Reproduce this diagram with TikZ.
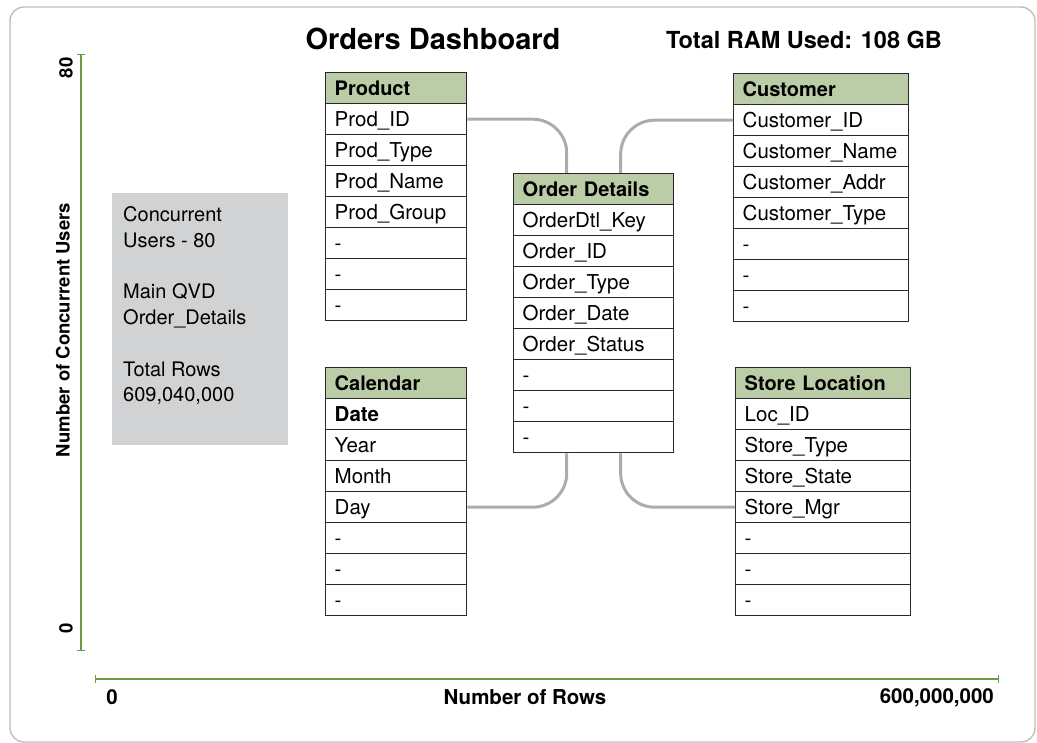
\documentclass[tikz,border=0pt]{standalone}
\usepackage{fontspec}
\setmainfont{TeX Gyre Heros}
\usetikzlibrary{arrows.meta,calc}
\definecolor{hdrgreen}{RGB}{187,205,166}
\definecolor{axisgreen}{RGB}{108,156,66}
\definecolor{connGray}{RGB}{172,172,174}
\definecolor{boxGray}{RGB}{209,210,212}
\definecolor{borderDark}{RGB}{40,40,40}
\definecolor{frameGray}{RGB}{190,190,190}
\newcommand\tfont{\fontsize{20.5}{24}\selectfont}
\newcommand\hfont{\fontsize{20}{24}\selectfont}
\newcommand\dbtable[6]{%
  \node[hdr, minimum width=#4pt, text width=#4pt-18pt, anchor=north west] (#1) at (#2,#3) {#5};
  \foreach \t [count=\i] in {#6} {%
    \node[rowcell, minimum width=#4pt, text width=#4pt-18pt, anchor=north west] (#1\i) at (#2,#3+31*\i) {\t};
  }%
}
\begin{document}
\begin{tikzpicture}[x=1pt,y=-1pt,
  rowcell/.style={draw=borderDark, line width=1.4pt, fill=white, rectangle, minimum height=31pt,
     inner xsep=9pt, inner ysep=0pt, text height=15pt, text depth=0pt, align=left, font=\tfont},
  hdr/.style={rowcell, fill=hdrgreen, font=\hfont\bfseries},
  conn/.style={draw=connGray, line width=3pt, rounded corners=34pt},
  axis/.style={draw=axisgreen, line width=1.8pt, {Bar[width=8pt,line width=1.4pt]}-{Bar[width=8pt,line width=1.4pt]}},
  axlabel/.style={font=\fontsize{18.5}{22}\selectfont\bfseries, inner sep=0pt},
  xlabel/.style={font=\fontsize{20.5}{24}\selectfont\bfseries, inner sep=0pt},
  note/.style={font=\fontsize{20}{25.8}\selectfont, align=left, inner sep=0pt}
]
\useasboundingbox (0,0) rectangle (1037,743);
\draw[frameGray, line width=1.4pt, rounded corners=14pt] (10,7) rectangle (1035,742);

% titles
\node[font=\fontsize{29}{33}\selectfont\bfseries, anchor=base, inner sep=0pt] (title) at (433,50) {Orders Dashboard};
\node[font=\fontsize{23.5}{28}\selectfont\bfseries, anchor=base, inner sep=0pt] (ram) at (804,49) {Total RAM Used: 108 GB};

% axes
\coordinate (ytop) at (81,54);
\coordinate (ybot) at (81,651);
\draw[axis] (ybot) -- (ytop);
\coordinate (xl) at (95,679);
\coordinate (xr) at (999,679);
\draw[axis] (xl) -- (xr);
\node[axlabel, rotate=90] (y80) at (66,68) {80};
\node[axlabel, rotate=90] (y0) at (66,628) {0};
\node[axlabel, rotate=90] (ylab) at (63,330) {Number of Concurrent Users};
\node[xlabel, anchor=base] (x0) at (112,704) {0};
\node[xlabel, anchor=base] (xlab) at (525,704) {Number of Rows};
\node[xlabel, anchor=base east] (xmax) at (994,703) {600,000,000};

% info box
\fill[boxGray] (112,193) rectangle (288,445);
\node[note, anchor=base west] (info) at (123,402) {Concurrent\\Users - 80\\[25.8pt]Main QVD\\Order\_Details\\[25.8pt]Total Rows\\609,040,000};

% tables
\dbtable{prod}{325}{72}{141}{Product}{Prod\_ID,Prod\_Type,Prod\_Name,Prod\_Group,-,-,-}
\dbtable{od}{513}{173}{160}{Order Details}{OrderDtl\_Key,Order\_ID,Order\_Type,Order\_Date,Order\_Status,-,-,-}
\dbtable{cust}{733}{73}{175}{Customer}{Customer\_ID,Customer\_Name,Customer\_Addr,Customer\_Type,-,-,-}
\dbtable{cal}{325}{367}{141}{Calendar}{{\bfseries Date},Year,Month,Day,-,-,-}
\dbtable{store}{735}{367}{175}{Store Location}{Loc\_ID,Store\_Type,Store\_State,Store\_Mgr,-,-,-}

% connectors
\draw[conn] (prod1.east) -| ($(od.north west)!0.333!(od.north east)$);
\draw[conn] (cust1.west) -| ($(od.north west)!0.667!(od.north east)$);
\draw[conn] (cal4.east) -| ($(od8.south west)!0.333!(od8.south east)$);
\draw[conn] (store4.west) -| ($(od8.south west)!0.667!(od8.south east)$);
\end{tikzpicture}
\end{document}
